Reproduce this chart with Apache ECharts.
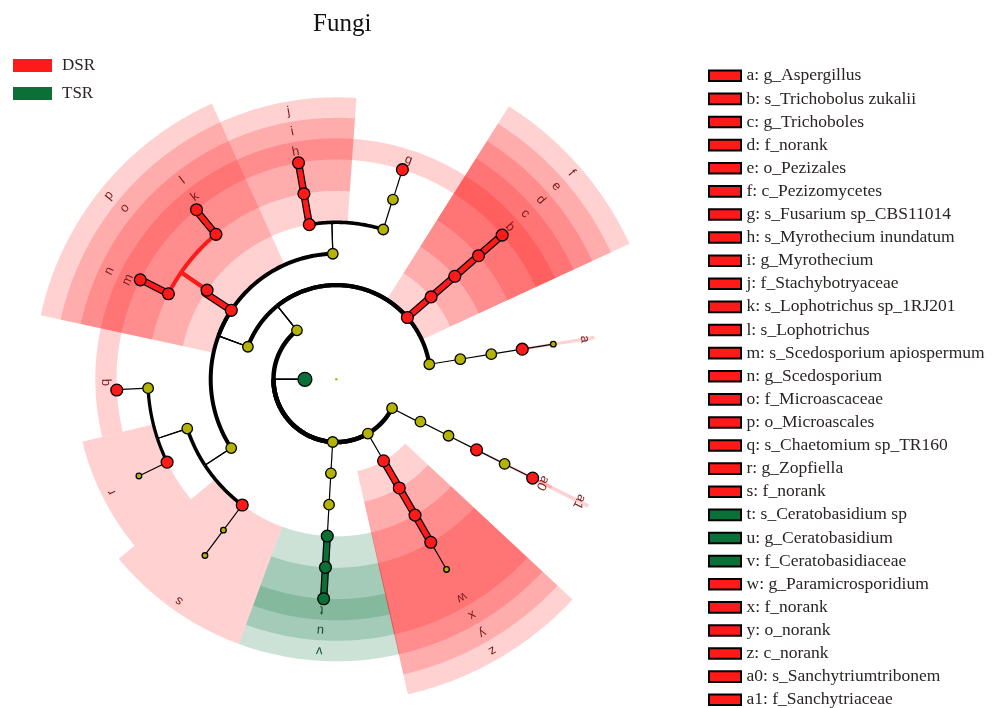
<!DOCTYPE html>
<html lang="en">
<head>
<meta charset="UTF-8">
<title>Fungi</title>
<script src="https://cdn.jsdelivr.net/npm/echarts@6/dist/echarts.min.js"></script>
<style>
    html, body {margin: 0; padding: 0; background: #fff;}
    #main {width: 994px; height: 708px;}
</style>
</head>
<body>
<div id="main"></div>
<script>
// cladogram nodes (level = taxonomic rank, angle in degrees, counter-clockwise from 3 o'clock)
var nodeIds    = ['root','K','P1','P2','P3','P4',
                  'C1','f','C3','C4','z','C6',
                  'O1','p','O3','e','O5','O6','y','O8',
                  'j','F2','o','F4','s','d','F7','v','x','a1',
                  'i','G2','l','n','G5','r','G7','c','a','u','w','G12',
                  'h','g','k','m','q','S6','S7','b','S9','t','S11','a0'];
var nodeParent = ['','','K','K','K','K',
                  'P1','P1','P1','P2','P3','P4',
                  'C1','C1','C1','f','C3','C4','z','C6',
                  'O1','O1','p','O3','O3','e','O5','O6','y','O8',
                  'j','F2','o','o','F4','F4','s','d','F7','v','x','a1',
                  'i','G2','l','n','G5','r','G7','c','a','u','w','G12'];
var nodeLevel  = [0,1,2,2,2,2,
                  3,3,3,3,3,3,
                  4,4,4,4,4,4,4,4,
                  5,5,5,5,5,5,5,5,5,5,
                  6,6,6,6,6,6,6,6,6,6,6,6,
                  7,7,7,7,7,7,7,7,7,7,7,7];
var nodeAngle  = [0,180,128.8,266.7,300.2,332.6,
                  159.8,41.0,9.2,266.7,300.1,333.3,
                  91.6,146.7,213.2,41.0,9.2,266.7,300.1,333.3,
                  99.9,72.6,145.4,198.3,233.2,41.0,9.2,266.7,300.1,333.3,
                  99.9,72.5,129.7,153.0,182.7,206.1,233.2,41.0,9.2,266.7,300.1,333.3,
                  99.9,72.5,129.5,153.1,182.8,206.1,233.3,41.0,9.2,266.7,300.1,333.3];
var nodeClass  = ['','TSR','','','','',
                  '','DSR','','','DSR','',
                  '','DSR','','DSR','','','DSR','',
                  'DSR','','DSR','','DSR','DSR','','TSR','DSR','DSR',
                  'DSR','','DSR','DSR','','DSR','','DSR','DSR','TSR','DSR','',
                  'DSR','DSR','DSR','DSR','DSR','','','DSR','','TSR','','DSR'];
var nodeAbund  = [0.05,100,10,10,10,10,
                  10,24,10,10,24,10,
                  10,24,10,24,10,10,24,10,
                  24,10,24,10,24,24,10,24,24,24,
                  24,10,24,24,10,24,0.4,24,24,24,24,10,
                  24,24,24,24,24,0.4,0.4,24,0.4,24,0.4,24];

// LDA biomarkers
var cladeKeys  = ['a','b','c','d','e','f','g','h','i','j','k','l','m','n','o','p',
                  'q','r','s','t','u','v','w','x','y','z','a0','a1'];
var cladeNames = ['g_Aspergillus','s_Trichobolus zukalii','g_Trichoboles','f_norank','o_Pezizales',
                  'c_Pezizomycetes','s_Fusarium sp_CBS11014','s_Myrothecium inundatum','g_Myrothecium',
                  'f_Stachybotryaceae','s_Lophotrichus sp_1RJ201','s_Lophotrichus','s_Scedosporium apiospermum',
                  'g_Scedosporium','f_Microascaceae','o_Microascales','s_Chaetomium sp_TR160','g_Zopfiella',
                  'f_norank','s_Ceratobasidium sp','g_Ceratobasidium','f_Ceratobasidiaceae',
                  'g_Paramicrosporidium','f_norank','o_norank','c_norank','s_Sanchytriumtribonem','f_Sanchytriaceae'];
var cladeFrom  = [8.8,24.8,24.8,24.8,24.8,24.8,57.7,85.9,85.9,85.9,114.3,114.3,141.2,141.2,114.3,114.3,
                  167.8,193.8,219.5,249.8,249.8,249.8,282.8,282.8,282.8,282.8,332.9,332.9];
var cladeTo    = [9.6,57.7,57.7,57.7,57.7,57.7,85.9,114.3,114.3,114.3,141.2,141.2,167.8,167.8,167.8,167.8,
                  193.8,219.5,249.8,283.0,283.0,283.0,317.0,317.0,317.0,317.0,333.7,333.7];

var groups = ['DSR', 'TSR'];

var COLOR = {DSR: '#ff1a1a', TSR: '#0a7038', '': '#b4b400'};
var SECTOR = {DSR: 'rgba(255,0,0,0.18)', TSR: 'rgba(0,110,55,0.2)'};
var LABEL = {DSR: '#7a1a1a', TSR: '#1e4d33'};

var UNIT = 31.4;          // px per level
var RMAX = 11;
var ARC_W = [0, 0, 4.5, 4.2, 4, 3.6, 3.3, 3];

function sectorOuter(L) { return (241 + 20.5 * (7 - L)) / UNIT; }
function labelRadius(L) { return sectorOuter(L) - 10 / UNIT; }
function sizeOf(a) { return 7 + 3.5 * Math.log10(a); }

var idIndex = {}, childCount = {};
nodeIds.forEach(function (id, i) { idIndex[id] = i; });
nodeParent.forEach(function (p) { if (p) childCount[p] = (childCount[p] || 0) + 1; });

// edges: [level, angle, parentLevel, parentAngle, kind, single]
var edgeData = [];
nodeIds.forEach(function (id, i) {
    var p = nodeParent[i];
    if (!p) return;
    var pi = idIndex[p];
    var kind = 0;
    if (nodeClass[i] && nodeClass[i] === nodeClass[pi]) kind = nodeClass[i] === 'DSR' ? 1 : 2;
    edgeData.push([nodeLevel[i], nodeAngle[i], nodeLevel[pi], nodeAngle[pi], kind, childCount[p] === 1 ? 1 : 0]);
});
edgeData.sort(function (a, b) { return a[4] === 0 ? (b[4] === 0 ? 0 : -1) : (b[4] === 0 ? 1 : 0); });

var sectorData = [], labelData = [];
cladeKeys.forEach(function (k, i) {
    var L = nodeLevel[idIndex[k]];
    var cls = groups.indexOf(nodeClass[idIndex[k]]);
    sectorData.push([L, sectorOuter(L), cladeFrom[i], cladeTo[i], cls]);
    labelData.push([labelRadius(L), (cladeFrom[i] + cladeTo[i]) / 2, cls]);
});

function arcPoints(api, r, a0, a1) {
    var n = Math.max(2, Math.ceil(Math.abs(a1 - a0) / 0.5) + 1), pts = [];
    for (var k = 0; k < n; k++) pts.push(api.coord([r, a0 + (a1 - a0) * k / (n - 1)]));
    return pts;
}

function renderSector(params, api) {
    var r0 = api.value(0), r1 = api.value(1), a0 = api.value(2), a1 = api.value(3);
    var pts = arcPoints(api, r1, a0, a1).concat(arcPoints(api, r0, a1, a0));
    return {type: 'polygon', shape: {points: pts}, style: {fill: SECTOR[groups[api.value(4)]]}};
}

function renderLabel(params, api) {
    var a = api.value(1);
    var p = api.coord([api.value(0), a]);
    return {
        type: 'text', x: p[0], y: p[1], rotation: (a - 90) * Math.PI / 180,
        style: {
            text: cladeKeys[params.dataIndex], fill: LABEL[groups[api.value(2)]],
            font: '13px "Liberation Sans"', align: 'center', verticalAlign: 'middle'
        }
    };
}

function renderEdge(params, api) {
    var L = api.value(0), a = api.value(1), pL = api.value(2), pa = api.value(3);
    var kind = api.value(4), single = api.value(5);
    var radial = [api.coord([pL, pa]), api.coord([L, pa])];
    var arc = arcPoints(api, L, pa, a);
    if (kind === 0) {
        return {type: 'group', children: [
            {type: 'polyline', shape: {points: radial}, style: {stroke: '#000', lineWidth: 1.2, fill: null}},
            {type: 'polyline', shape: {points: arc}, style: {stroke: '#000', lineWidth: ARC_W[L], fill: null}}
        ]};
    }
    var col = COLOR[groups[kind - 1]];
    var path = radial.concat(arc);
    if (single) {
        return {type: 'group', children: [
            {type: 'polyline', z2: 5, shape: {points: path}, style: {stroke: '#000', lineWidth: 7.5, fill: null, lineJoin: 'round'}},
            {type: 'polyline', z2: 6, shape: {points: path}, style: {stroke: col, lineWidth: 5, fill: null, lineJoin: 'round'}}
        ]};
    }
    return {type: 'group', children: [
        {type: 'polyline', z2: 6, shape: {points: path}, style: {stroke: col, lineWidth: 4, fill: null, lineJoin: 'round'}}
    ]};
}

function nodeSeries(cls, name) {
    var data = [];
    nodeIds.forEach(function (id, i) {
        if (nodeClass[i] !== cls) return;
        var item = {value: [nodeLevel[i], nodeAngle[i]], symbolSize: sizeOf(nodeAbund[i])};
        if (nodeAbund[i] < 0.1) item.itemStyle = {borderWidth: 0};
        data.push(item);
    });
    return {
        name: name, type: 'scatter', coordinateSystem: 'polar', data: data, z: 5, silent: true,
        itemStyle: {color: COLOR[cls], borderColor: '#000', borderWidth: 1.3, opacity: 1}
    };
}

// biomarker list on the right
var listGraphics = [];
cladeKeys.forEach(function (k, i) {
    var yc = 75.8 + i * 23.11;
    var cls = nodeClass[idIndex[k]];
    listGraphics.push({
        type: 'rect', x: 709, y: yc - 5.3, shape: {width: 32, height: 10.6},
        style: {fill: COLOR[cls], stroke: '#000', lineWidth: 2}
    });
    listGraphics.push({
        type: 'text', x: 746.5, y: yc,
        style: {text: k + ': ' + cladeNames[i], font: '17.5px "Liberation Serif"', fill: '#2b2424', verticalAlign: 'middle'}
    });
});

var myChart = echarts.init(document.getElementById('main'));

var option = {
    animation: false,
    title: {
        text: 'Fungi', left: 313, top: 12, padding: 0,
        textStyle: {fontFamily: 'Liberation Serif', fontSize: 25, fontWeight: 'normal', color: '#111'}
    },
    legend: {
        data: groups, orient: 'vertical', left: 13, top: 57, icon: 'rect', padding: 0,
        itemWidth: 39, itemHeight: 13, itemGap: 11,
        itemStyle: {borderWidth: 0},
        textStyle: {fontFamily: 'Liberation Serif', fontSize: 17, color: '#2b2424', padding: [0, 0, 0, 5], lineHeight: 17}
    },
    polar: {center: [336.3, 379.3], radius: RMAX * UNIT},
    angleAxis: {type: 'value', min: 0, max: 360, startAngle: 0, clockwise: false, show: false},
    radiusAxis: {type: 'value', min: 0, max: RMAX, show: false},
    graphic: listGraphics,
    series: [
        {type: 'custom', coordinateSystem: 'polar', data: sectorData, renderItem: renderSector, z: 1, silent: true},
        {type: 'custom', coordinateSystem: 'polar', data: labelData, renderItem: renderLabel, z: 2, silent: true},
        {type: 'custom', coordinateSystem: 'polar', data: edgeData, renderItem: renderEdge, z: 3, silent: true},
        nodeSeries('', 'other'),
        nodeSeries('DSR', 'DSR'),
        nodeSeries('TSR', 'TSR')
    ]
};

myChart.setOption(option);
</script>
</body>
</html>
